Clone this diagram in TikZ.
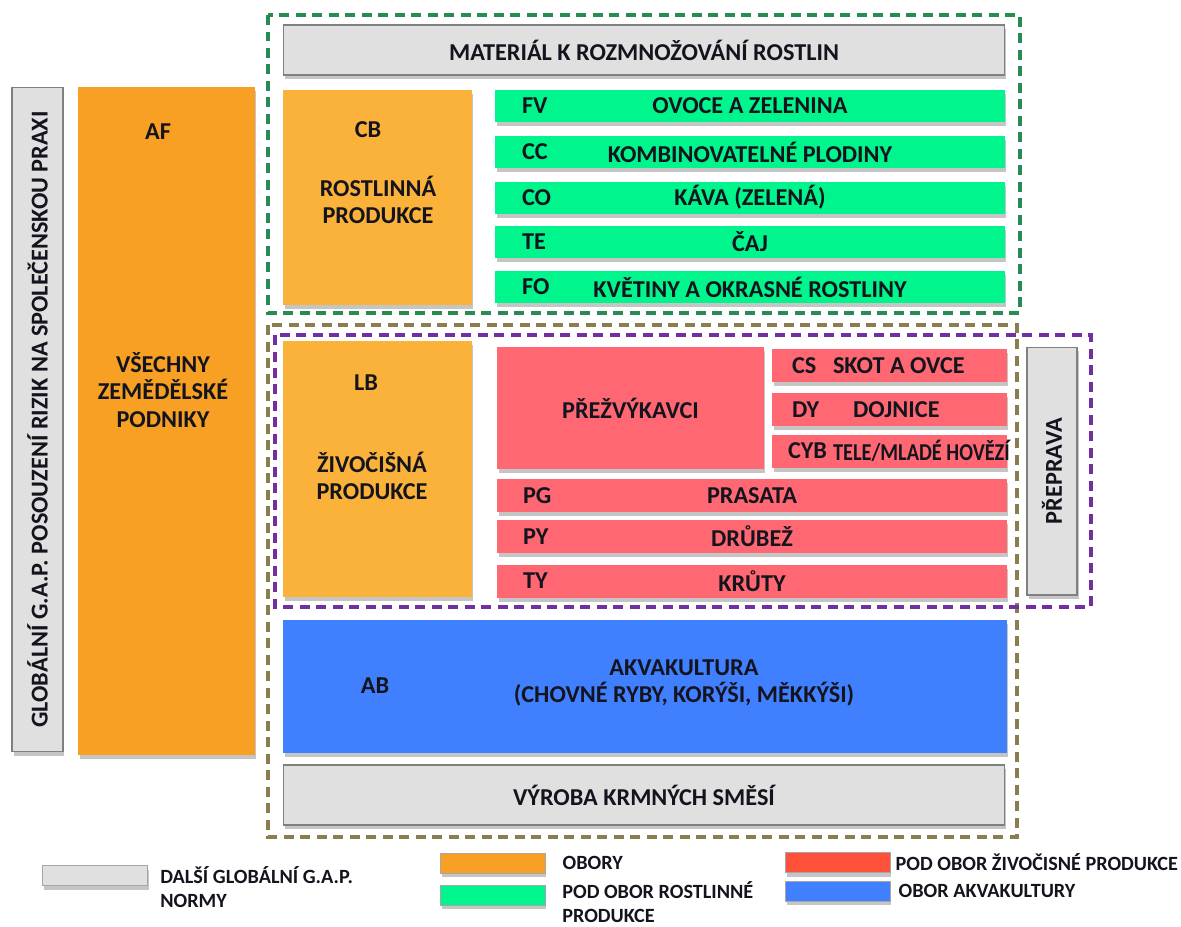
\documentclass[tikz,border=0pt]{standalone}
\usepackage{fontspec}
\setmainfont{Carlito}
\usetikzlibrary{positioning, shadows}
\definecolor{boxgray}{RGB}{224,224,224}
\definecolor{edgegray}{RGB}{128,128,128}
\definecolor{darkorange}{RGB}{247,160,36}
\definecolor{lightorange}{RGB}{251,178,58}
\definecolor{brightgreen}{RGB}{0,245,140}
\definecolor{rosered}{RGB}{255,104,114}
\definecolor{legendred}{RGB}{255,80,58}
\definecolor{skyblue}{RGB}{64,128,255}
\definecolor{framegreen}{RGB}{40,140,80}
\definecolor{frameolive}{RGB}{140,125,80}
\definecolor{framepurple}{RGB}{112,48,160}
\definecolor{inktext}{RGB}{20,20,30}

\begin{document}
\begin{tikzpicture}[x=0.02cm, y=-0.02cm,
    lbl/.style={font=\fontsize{13.8}{15.5}\selectfont\bfseries, text=inktext, align=center},
    legtext/.style={font=\fontsize{11.5}{13.4}\selectfont\bfseries, text=inktext, align=left, inner sep=0pt},
    code/.style={lbl, inner sep=0pt},
    block/.style={rectangle, inner sep=0pt, lbl, drop shadow={shadow xshift=0.03cm, shadow yshift=-0.08cm, opacity=0.45}},
    graybox/.style={block, fill=boxgray, draw=edgegray, line width=0.6pt},
    sector/.style={block, fill=lightorange},
    plantbar/.style={block, fill=brightgreen, minimum width=10.2cm, minimum height=0.64cm},
    animalbar/.style={block, fill=rosered, minimum height=0.66cm},
    frame/.style={line width=2.2pt, dash pattern=on 0.2cm off 0.13cm},
    swatch/.style={block, minimum width=2.1cm, minimum height=0.4cm, draw=black!35, line width=0.4pt}
]
    \useasboundingbox (0,0) rectangle (1181,927);
    \fill[white] (0,0) rectangle (1181,927);

    % Risk assessment column and all farms
    \node[graybox, minimum width=1.02cm, minimum height=13.3cm] (riskbox) at (37.5,419.5) {};
    \node[lbl, rotate=90] (risktext) at (riskbox) {GLOBÁLNÍ G.A.P. POSOUZENÍ RIZIK NA SPOLEČENSKOU PRAXI};
    \node[sector, fill=darkorange, minimum width=3.54cm, minimum height=13.36cm] (allfarms) at (166.5,421) {};
    \node[code] (afcode) at (158,132) {AF};
    \node[lbl] (aftext) at (163,390) {VŠECHNY\\ZEMĚDĚLSKÉ\\PODNIKY};

    % Crops
    \draw[frame, framegreen] (268,15) rectangle (1020,313);
    \node[graybox, minimum width=14.44cm, minimum height=1cm] (material) at (644,50) {MATERIÁL K ROZMNOŽOVÁNÍ ROSTLIN};
    \node[sector, minimum width=3.78cm, minimum height=4.3cm] (crops) at (377.5,197.5) {};
    \node[code] (cbcode) at (368,130) {CB};
    \node[lbl] (cbtext) at (378,200) {ROSTLINNÁ\\PRODUKCE};

    \node[plantbar] (fv) at (750,106) {OVOCE A ZELENINA};
    \node[plantbar] (cc) at (750,152) {KOMBINOVATELNÉ PLODINY};
    \node[plantbar] (co) at (750,197.5) {KÁVA (ZELENÁ)};
    \node[plantbar] (te) at (750,242) {ČAJ};
    \node[plantbar] (fo) at (750,287) {KVĚTINY A OKRASNÉ ROSTLINY};
    \foreach \sub/\txt in {fv/FV, cc/CC, co/CO, te/TE, fo/FO}
        \node[code, right=0.54cm of \sub.west] (\sub-code) {\txt};

    % Livestock
    \draw[frame, frameolive] (268,325) rectangle (1017,837);
    \draw[frame, framepurple] (275,335) rectangle (1091,607);
    \node[sector, minimum width=3.78cm, minimum height=5.12cm] (livestock) at (377.5,469) {};
    \node[code] (lbcode) at (366,383) {LB};
    \node[lbl] (lbtext) at (372,476) {ŽIVOČIŠNÁ\\PRODUKCE};

    \node[animalbar, minimum width=5.34cm, minimum height=2.44cm] (rumin) at (630.5,408) {PŘEŽVÝKAVCI};
    \node[animalbar, minimum width=4.7cm] (cs) at (889.5,365.5) {};
    \node[animalbar, minimum width=4.7cm] (dy) at (889.5,409.5) {};
    \node[animalbar, minimum width=4.7cm] (cyb) at (889.5,451) {};
    \node[code, right=0.4cm of cs.west] (cs-code) {CS};
    \node[code, right=1.22cm of cs.west] (cs-text) {SKOT A OVCE};
    \node[code, right=0.4cm of dy.west] (dy-code) {DY};
    \node[code, right=1.62cm of dy.west] (dy-text) {DOJNICE};
    \node[code, right=0.32cm of cyb.west] (cyb-code) {CYB};
    \node[code, right=1.22cm of cyb.west] (cyb-text) {\scalebox{0.84}[1]{TELE/MLADÉ HOVĚZÍ}};

    \node[animalbar, minimum width=10.2cm] (pg) at (752,495.5) {PRASATA};
    \node[animalbar, minimum width=10.2cm] (py) at (752,536.5) {DRŮBEŽ};
    \node[animalbar, minimum width=10.2cm] (ty) at (752,581) {KRŮTY};
    \foreach \sub/\txt in {pg/PG, py/PY, ty/TY}
        \node[code, right=0.52cm of \sub.west] (\sub-code) {\txt};

    \node[graybox, minimum width=1cm, minimum height=4.96cm] (transport) at (1052,471) {};
    \node[lbl, rotate=90] (transtext) at (transport) {PŘEPRAVA};

    % Aquaculture and feed
    \node[block, fill=skyblue, minimum width=14.48cm, minimum height=2.66cm] (aqua) at (645,686.5) {};
    \node[code] (abcode) at (375,686) {AB};
    \node[lbl] (abtext) at (684,683) {AKVAKULTURA\\(CHOVNÉ RYBY, KORÝŠI, MĚKKÝŠI)};
    \node[graybox, minimum width=14.44cm, minimum height=1.2cm] (feed) at (644,795) {VÝROBA KRMNÝCH SMĚSÍ};

    % Legend
    \node[swatch, fill=boxgray] (legray) at (95,875.5) {};
    \node[legtext, anchor=west] (legraytxt) at (160,887) {DALŠÍ GLOBÁLNÍ G.A.P.\\NORMY};
    \node[swatch, fill=darkorange] (leorange) at (492.5,863) {};
    \node[legtext, right=0.34cm of leorange] (leorangetxt) {OBORY};
    \node[swatch, fill=brightgreen] (legreen) at (492.5,895) {};
    \node[legtext, anchor=west] (legreentxt) at (562,902) {POD OBOR ROSTLINNÉ\\PRODUKCE};
    \node[swatch, fill=legendred] (lered) at (837.5,862.5) {};
    \node[legtext, right=0.1cm of lered] (leredtxt) {POD OBOR ŽIVOČISNÉ PRODUKCE};
    \node[swatch, fill=skyblue] (leblue) at (837.5,891) {};
    \node[legtext, right=0.16cm of leblue] (lebluetxt) {OBOR AKVAKULTURY};
\end{tikzpicture}
\end{document}
